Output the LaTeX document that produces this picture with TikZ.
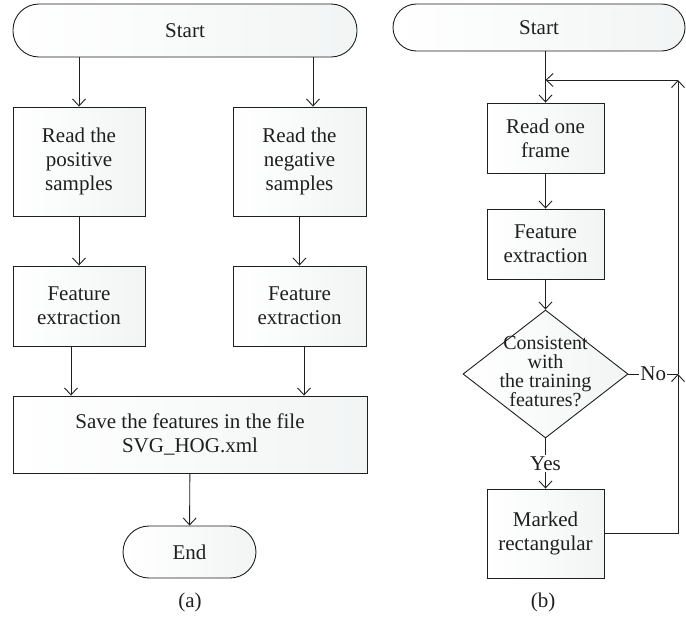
\documentclass[tikz,border=0pt]{standalone}
\usepackage{fontspec}
\setmainfont{Liberation Serif}
\usetikzlibrary{arrows.meta,calc,positioning,shapes.geometric}
\tikzset{>={Straight Barb[length=7pt,width=13pt]}}
\definecolor{boxgray}{rgb}{0.95,0.96,0.96}
\definecolor{ink}{rgb}{0.12,0.12,0.12}
\tikzset{
  every node/.style={font=\fontsize{21}{24}\selectfont, text=ink},
  proc/.style={draw=ink, line width=0.9pt, left color=white, middle color=boxgray,
    right color=boxgray, align=center, inner sep=0pt},
  term/.style={proc, rounded corners=#1},
  decision/.style={diamond, draw=ink, line width=0.9pt, left color=white,
    middle color=boxgray, right color=boxgray, inner sep=0pt},
  flow/.style={->, draw=ink, line width=0.9pt},
  tag/.style={fill=white, inner sep=1.5pt}
}

\begin{document}
\begin{tikzpicture}[x=1pt,y=-1pt]
      \useasboundingbox (0,0) rectangle (686,619);
      % (a) training
      \node[term=26, minimum width=344, minimum height=53] (startA) at (185,30.5) {Start};
      \node[proc, minimum width=132, minimum height=109] (rdpos) at (79,161.5) {Read the\\positive\\samples};
      \node[proc, minimum width=133, minimum height=109] (rdneg) at (299.5,161.5) {Read the\\negative\\samples};
      \node[proc, minimum width=132, minimum height=80] (fepos) at (79,306) {Feature\\extraction};
      \node[proc, minimum width=133, minimum height=80] (feneg) at (299.5,306) {Feature\\extraction};
      \node[proc, minimum width=354, minimum height=77] (save) at (190,434.5) {Save the features in the file\\SVG\_HOG.xml};
      \node[term=26, minimum width=133, minimum height=52] (endA) at (189.5,552) {End};
      \node (capA) at (190,602) {(a)};
      %
      \coordinate (negin) at ([xshift=13.5]rdneg.north);
      \coordinate (posout) at ([xshift=-8]fepos.south);
      \coordinate (negout) at ([xshift=4.5]feneg.south);
      \draw[flow] (startA.south -| rdpos) -- (rdpos);
      \draw[flow] (startA.south -| negin) -- (negin);
      \draw[flow] (rdpos) -- (fepos);
      \draw[flow] (rdneg) -- (feneg);
      \draw[flow] (posout) -- (posout |- save.north);
      \draw[flow] (negout) -- (negout |- save.north);
      \draw[flow] (save) -- (endA);
      %
      % (b) detection
      \node[term=23.5, minimum width=292, minimum height=47] (startB) at (539,27.5) {Start};
      \node[proc, minimum width=117, minimum height=70] (rdfr) at (545.5,138) {Read one\\frame};
      \node[proc, minimum width=117, minimum height=70] (feB) at (545.5,244) {Feature\\extraction};
      \node[decision, minimum width=165, minimum height=128] (chk) at (545.5,374) {};
      \node[align=center, font=\fontsize{20}{19}\selectfont] (chktxt) at ([yshift=2]chk.center) {Consistent\\with\\the training\\features?};
      \node[proc, minimum width=117, minimum height=89] (mark) at (545.5,533.5) {Marked\\rectangular};
      \node (capB) at (543,602) {(b)};
      %
      \coordinate (loopR) at (678,80);
      \coordinate (loopL) at (rdfr.north |- loopR);
      \coordinate (nojoin) at (chk.east -| loopR);
      \draw[flow] (startB.south -| rdfr) -- (rdfr);
      \draw[flow] (rdfr) -- (feB);
      \draw[flow] (feB) -- (chk);
      \draw[flow] (chk) -- node[tag] (yes) {Yes} (mark);
      \draw[draw=ink, line width=0.9pt] (chk.east) -- node[tag, inner sep=1pt] (no) {No} (nojoin);
      \draw[flow] (mark.east) -| (nojoin);
      \draw[flow] (nojoin) -- (loopR);
      \draw[flow] (loopR) -- (loopL);
    \end{tikzpicture}
\end{document}
